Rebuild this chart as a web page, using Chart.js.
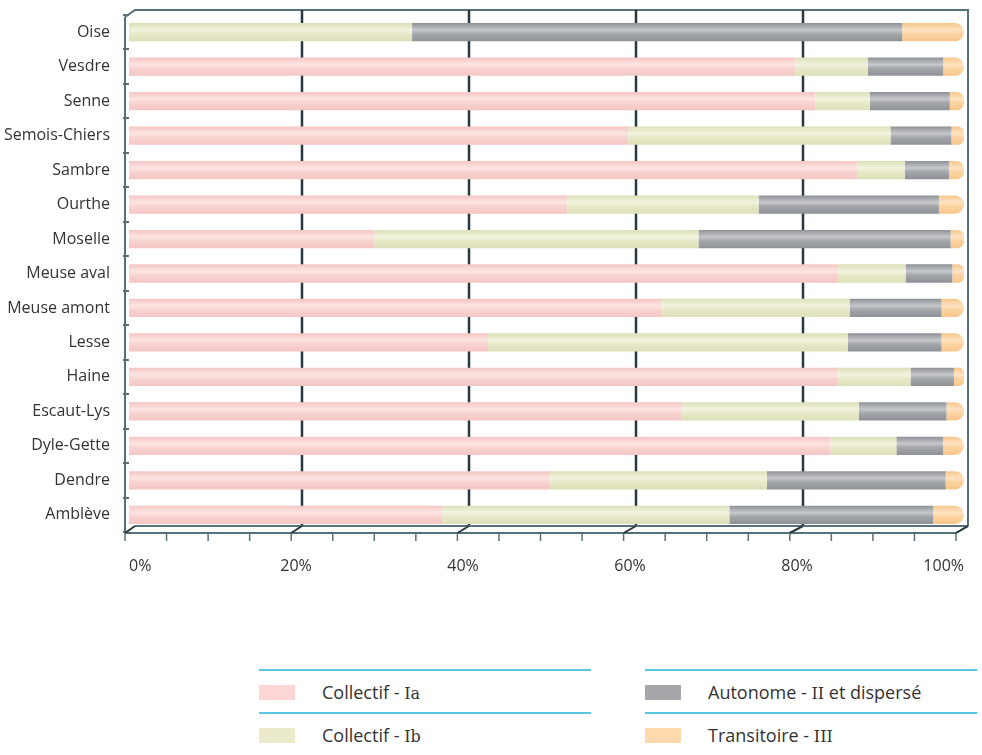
<!DOCTYPE html>
<html>
<head>
<meta charset="utf-8">
<script src="https://cdn.jsdelivr.net/npm/chart.js@4"></script>
<style>
  body { margin: 0; background: #fff; font-family: 'Open Sans', sans-serif; color: #333; overflow: hidden; }
  #wrap { position: relative; width: 982px; height: 600px; }
  .leg { position: absolute; width: 332px; height: 41px; border-top: 2px solid #5bc6e0; }
  .leg span.sw { position: absolute; left: 0; top: 14px; width: 36px; height: 15px; }
  .leg span.tx { position: absolute; left: 63px; top: 8px; font-size: 18px; line-height: 26px; white-space: nowrap; }
  .rom { font-family: 'DejaVu Serif', 'Liberation Serif', serif; font-size: 16px; }
</style>
</head>
<body>
<div id="wrap"><canvas id="graphique"></canvas></div>

<div class="leg" style="left:259px; top:669px;"><span class="sw" style="background:#fbd6d4"></span><span class="tx">Collectif - <span class="rom">Ia</span></span></div>
<div class="leg" style="left:259px; top:712px;"><span class="sw" style="background:#ebebcb"></span><span class="tx">Collectif - <span class="rom">Ib</span></span></div>
<div class="leg" style="left:645px; top:669px;"><span class="sw" style="background:#a5a7aa"></span><span class="tx">Autonome - <span class="rom">II</span> et dispersé</span></div>
<div class="leg" style="left:645px; top:712px;"><span class="sw" style="background:#fdd9ac"></span><span class="tx">Transitoire - <span class="rom">III</span></span></div>

<script>
// bassins (de haut en bas)
var bassins = ['Oise', 'Vesdre', 'Senne', 'Semois-Chiers', 'Sambre', 'Ourthe', 'Moselle',
    'Meuse aval', 'Meuse amont', 'Lesse', 'Haine', 'Escaut-Lys', 'Dyle-Gette', 'Dendre', 'Amblève'];

// parts en % par régime d'assainissement
var collectifIa = [0, 79.8, 82.2, 59.8, 87.2, 52.5, 29.4, 84.9, 63.8, 43.0, 84.9, 66.2, 84.0, 50.3, 37.5];
var collectifIb = [33.9, 8.7, 6.5, 31.4, 5.7, 22.9, 38.8, 8.1, 22.5, 43.1, 8.7, 21.2, 7.9, 26.1, 34.4];
var autonome = [58.7, 9.0, 9.6, 7.3, 5.3, 21.6, 30.2, 5.6, 11.0, 11.2, 5.2, 10.5, 5.6, 21.4, 24.4];
var transitoire = [7.4, 2.5, 1.7, 1.5, 1.8, 3.0, 1.6, 1.4, 2.7, 2.7, 1.2, 2.1, 2.5, 2.2, 3.7];

var graduations = [0, 20, 40, 60, 80, 100];

// dégradé "cylindre" pour chaque barre
function cylindre(base, fonce, clair) {
    return function (c) {
        var chart = c.chart;
        var ys = chart.scales.y;
        if (!chart.chartArea || c.dataIndex === undefined || !ys) return base;
        var y = ys.getPixelForValue(c.dataIndex);
        var g = chart.ctx.createLinearGradient(0, y - 9, 0, y + 9);
        g.addColorStop(0, fonce);
        g.addColorStop(0.38, clair);
        g.addColorStop(0.6, base);
        g.addColorStop(1, fonce);
        return g;
    };
}

// cadre en pseudo 3D (mur du fond, sol, graduations)
var cadre3d = {
    id: 'cadre3d',
    beforeDatasetsDraw: function (chart) {
        var ctx = chart.ctx, xs = chart.scales.x;
        var haut = 10, solFond = 526;
        ctx.save();
        ctx.lineWidth = 2;
        ctx.strokeStyle = '#56717b';
        ctx.beginPath();
        ctx.moveTo(xs.getPixelForValue(0) - 4, 17);
        ctx.lineTo(xs.getPixelForValue(0) + 6, haut);
        ctx.lineTo(xs.getPixelForValue(100) + 4, haut);
        ctx.lineTo(xs.getPixelForValue(100) + 4, solFond);
        ctx.stroke();
        // lignes de quadrillage au fond
        ctx.strokeStyle = '#27383e';
        ctx.lineWidth = 2.5;
        graduations.slice(1, 5).forEach(function (v) {
            var x = xs.getPixelForValue(v) + 6;
            ctx.beginPath();
            ctx.moveTo(x, haut);
            ctx.lineTo(x, solFond);
            ctx.stroke();
        });
        ctx.restore();
    },
    afterDatasetsDraw: function (chart) {
        var ctx = chart.ctx, xs = chart.scales.x;
        var solFond = 526, solAvant = 533;
        var avant = function (v) { return xs.getPixelForValue(v) - 4 - v * 0.04; };
        ctx.save();
        ctx.lineWidth = 2;
        ctx.strokeStyle = '#56717b';
        ctx.beginPath();
        ctx.moveTo(xs.getPixelForValue(0) + 6, solFond);
        ctx.lineTo(xs.getPixelForValue(100) + 4, solFond);
        ctx.moveTo(avant(0), solAvant);
        ctx.lineTo(avant(100), solAvant);
        ctx.moveTo(avant(0), 17);
        ctx.lineTo(avant(0), solAvant);
        ctx.moveTo(xs.getPixelForValue(100) + 4, solFond);
        ctx.lineTo(avant(100), solAvant);
        ctx.stroke();
        // diagonales du sol
        ctx.strokeStyle = '#27383e';
        graduations.forEach(function (v) {
            ctx.beginPath();
            ctx.moveTo(avant(v), solAvant);
            ctx.lineTo(xs.getPixelForValue(v) + (v === 100 ? 4 : 6), solFond);
            ctx.stroke();
        });
        // petites graduations tous les 5 %
        ctx.strokeStyle = '#56717b';
        ctx.lineWidth = 1.5;
        for (var v = 0; v <= 100; v += 5) {
            ctx.beginPath();
            ctx.moveTo(avant(v), solAvant);
            ctx.lineTo(avant(v), solAvant + 8);
            ctx.stroke();
        }
        ctx.restore();
    }
};

var police = { family: "'Open Sans', sans-serif", size: 16 };

new Chart(document.getElementById('graphique'), {
    type: 'bar',
    data: {
        labels: bassins,
        datasets: [
            { label: 'Collectif - Ia', data: collectifIa,
              backgroundColor: cylindre('#f8d3d1', '#f4c6c4', '#fce5e3') },
            { label: 'Collectif - Ib', data: collectifIb,
              backgroundColor: cylindre('#e7e9c8', '#dde0b8', '#f2f3df') },
            { label: 'Autonome - II et dispersé', data: autonome,
              backgroundColor: cylindre('#a3a6aa', '#8e9297', '#c6c8cb') },
            { label: 'Transitoire - III', data: transitoire,
              backgroundColor: cylindre('#fbd3a1', '#f7c78c', '#fde3c3'),
              borderSkipped: 'start',
              borderRadius: { topRight: 9, bottomRight: 9 } }
        ]
    },
    options: {
        indexAxis: 'y',
        responsive: true,
        maintainAspectRatio: false,
        animation: false,
        barPercentage: 0.53,
        categoryPercentage: 1,
        layout: { padding: { top: 15, right: 18, left: 0, bottom: 0 } },
        plugins: { legend: { display: false }, tooltip: { enabled: false } },
        scales: {
            x: {
                stacked: true,
                min: 0,
                max: 100,
                grid: { display: false, drawTicks: false },
                border: { display: false },
                ticks: {
                    stepSize: 20,
                    padding: 25,
                    align: 'inner',
                    color: '#333',
                    font: police,
                    maxRotation: 0,
                    callback: function (v) { return v + '%'; }
                },
                afterFit: function (s) { s.height = 68; s.paddingLeft = 0; s.paddingRight = 0; }
            },
            y: {
                stacked: true,
                grid: { display: true, drawOnChartArea: false, drawTicks: true, tickLength: 6,
                        color: '#56717b', lineWidth: 2 },
                border: { display: false },
                ticks: { padding: 13, color: '#333', font: police, autoSkip: false },
                afterFit: function (s) { s.width = 129; s.paddingTop = 0; s.paddingBottom = 0; }
            }
        }
    },
    plugins: [cadre3d]
});
</script>
</body>
</html>
